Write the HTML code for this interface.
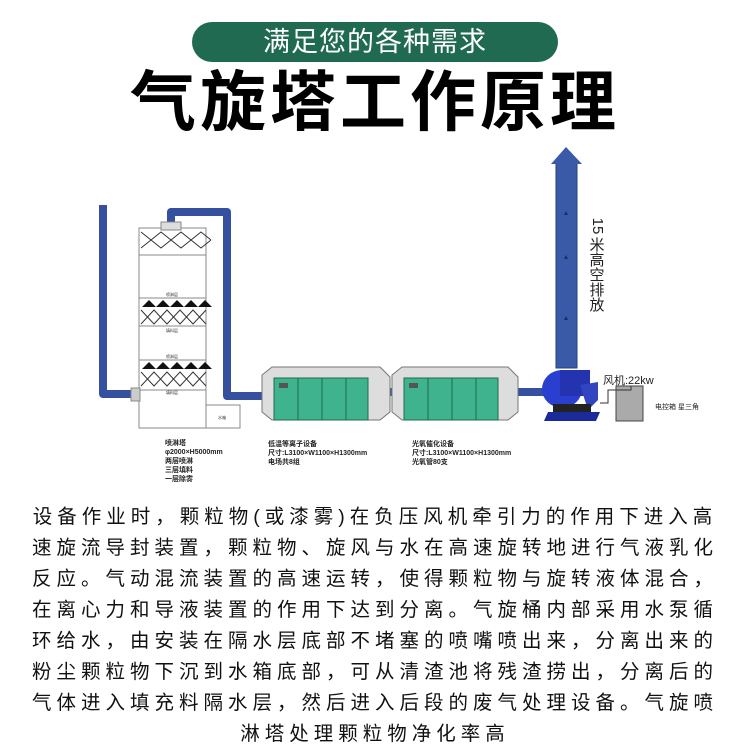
<!DOCTYPE html>
<html><head><meta charset="utf-8"><style>
body{margin:0;width:750px;height:750px;background:#fff;position:relative;overflow:hidden;font-family:"Liberation Sans","Noto Sans CJK SC",sans-serif}
.pill{position:absolute;left:192px;top:22px;width:366px;height:40px;border-radius:20px;background:#1f6a50;color:#fff;font-size:27px;line-height:40px;text-align:center;letter-spacing:1px}
.title{position:absolute;left:0;top:66px;width:750px;text-align:center;font-size:66px;font-weight:bold;line-height:72px;color:#000;letter-spacing:4px}
.body{position:absolute;left:0;top:502px;width:750px;font-size:19.5px;line-height:31px;color:#111;text-align:center;letter-spacing:5px}
.body div{white-space:nowrap}
svg{position:absolute;left:0;top:0}
</style></head><body>
<div class="pill">满足您的各种需求</div>
<div class="title">气旋塔工作原理</div>
<svg width="750" height="500" viewBox="0 0 750 500">
<g fill="none" stroke="#34509f" stroke-width="8" stroke-linejoin="round">
<path d="M103 205 V394 H134"/>
<path d="M171 224 V212 H227 V396 H262"/>
<path d="M388 392 H392"/><path d="M515 392 H545"/>
</g>
<rect x="139" y="228" width="67" height="200" fill="#fff" stroke="#888"/>
<rect x="161" y="222" width="20" height="8" fill="#ddd" stroke="#888"/>
<path d="M141 232 l10 8 l10-8 l10 8 l10-8 l10 8 l10-8 l10 8 M141 248 l10-8 l10 8 l10-8 l10 8 l10-8 l10 8 l10-8" stroke="#333" fill="none" stroke-width="1"/>
<line x1="139" y1="255" x2="206" y2="255" stroke="#888"/>
<line x1="139" y1="298" x2="206" y2="298" stroke="#888"/>
<path d="M142 307 l7-7 l7 7 l7-7 l7 7 l7-7 l7 7 l7-7 l7 7 l7-7 l7 7z" fill="#111"/>
<path d="M141 310 l13 14 l13-14 l13 14 l13-14 l13 14 M141 324 l13-14 l13 14 l13-14 l13 14 l13-14" stroke="#333" fill="none"/>
<line x1="139" y1="326" x2="206" y2="326" stroke="#888"/>
<line x1="139" y1="360" x2="206" y2="360" stroke="#888"/>
<path d="M142 369 l7-7 l7 7 l7-7 l7 7 l7-7 l7 7 l7-7 l7 7 l7-7 l7 7z" fill="#111"/>
<path d="M141 372 l13 14 l13-14 l13 14 l13-14 l13 14 M141 386 l13-14 l13 14 l13-14 l13 14 l13-14" stroke="#333" fill="none"/>
<line x1="139" y1="390" x2="206" y2="390" stroke="#888"/>
<rect x="131" y="388" width="9" height="13" fill="#ccc" stroke="#888"/>
<rect x="206" y="405" width="34" height="23" fill="#fff" stroke="#888"/>
<g font-size="4" fill="#333" text-anchor="middle"><text x="172" y="296">喷淋层</text><text x="172" y="332">填料层</text><text x="172" y="358">喷淋层</text><text x="172" y="394">填料层</text><text x="222" y="419">水箱</text></g>
<g>
<path d="M262 375 L272 367 H380 L390 377 V412 L380 420 H272 L262 412Z" fill="#ddd" stroke="#777"/>
<rect x="274" y="378" width="94" height="42" fill="#3fb38d" stroke="#1d6b54"/>
<line x1="298" y1="378" x2="298" y2="420" stroke="#1d6b54"/><line x1="322" y1="378" x2="322" y2="420" stroke="#1d6b54"/><line x1="346" y1="378" x2="346" y2="420" stroke="#1d6b54"/>
<rect x="279" y="383" width="9" height="5" fill="#555"/>
<path d="M392 375 L402 367 H508 L518 377 V412 L508 420 H402 L392 412Z" fill="#ddd" stroke="#777"/>
<rect x="404" y="378" width="94" height="42" fill="#3fb38d" stroke="#1d6b54"/>
<line x1="428" y1="378" x2="428" y2="420" stroke="#1d6b54"/><line x1="452" y1="378" x2="452" y2="420" stroke="#1d6b54"/><line x1="476" y1="378" x2="476" y2="420" stroke="#1d6b54"/>
<rect x="409" y="383" width="9" height="5" fill="#555"/>
</g>
<rect x="556" y="163" width="21" height="205" fill="#3a5aa8" stroke="#24407f"/>
<path d="M551 164 L566 147 L582 164Z" fill="#3a5aa8"/>
<g fill="#1d2e66"><path d="M566 211 l-2 4 h4z"/><path d="M566 255 l-2 4 h4z"/><path d="M566 316 l-2 4 h4z"/></g>
<ellipse cx="562" cy="389" rx="20" ry="19" fill="#2a3fd0"/>
<rect x="560" y="370" width="30" height="26" fill="#2433b0"/>
<path d="M580 385 L598 382 V400 L588 410Z" fill="#3344c0"/>
<path d="M548 412 H600 L596 421 H544Z" fill="#1a2a9a"/>
<rect x="553" y="404" width="38" height="8" fill="#222"/>
<rect x="616" y="386" width="27" height="35" fill="#aaa" stroke="#444"/>
<path d="M600 403 H608 V390 H631 V386" stroke="#333" fill="none"/>
<text x="603" y="384" font-size="11" fill="#222">风机:22kw</text>
<text x="655" y="409" font-size="7" fill="#222">电控箱 星三角</text>
<g font-size="15" fill="#222" text-anchor="middle"><text x="597" y="230" transform="rotate(90 597 226)">15</text><text x="597" y="250">米</text><text x="597" y="265">高</text><text x="597" y="280">空</text><text x="597" y="295">排</text><text x="597" y="310">放</text></g>
<g font-size="7" fill="#222" font-weight="bold">
<text x="165" y="445">喷淋塔</text><text x="165" y="454">φ2000×H5000mm</text><text x="165" y="463">两层喷淋</text><text x="165" y="472">三层填料</text><text x="165" y="481">一层除雾</text>
<text x="268" y="446">低温等离子设备</text><text x="268" y="455">尺寸:L3100×W1100×H1300mm</text><text x="268" y="464">电场共8组</text>
<text x="412" y="446">光氧催化设备</text><text x="412" y="455">尺寸:L3100×W1100×H1300mm</text><text x="412" y="464">光氧管80支</text>
</g>
</svg>
<div class="body">
<div>设备作业时，颗粒物(或漆雾)在负压风机牵引力的作用下进入高</div>
<div>速旋流导封装置，颗粒物、旋风与水在高速旋转地进行气液乳化</div>
<div>反应。气动混流装置的高速运转，使得颗粒物与旋转液体混合，</div>
<div>在离心力和导液装置的作用下达到分离。气旋桶内部采用水泵循</div>
<div>环给水，由安装在隔水层底部不堵塞的喷嘴喷出来，分离出来的</div>
<div>粉尘颗粒物下沉到水箱底部，可从清渣池将残渣捞出，分离后的</div>
<div>气体进入填充料隔水层，然后进入后段的废气处理设备。气旋喷</div>
<div>淋塔处理颗粒物净化率高</div>
</div>
</body></html>
